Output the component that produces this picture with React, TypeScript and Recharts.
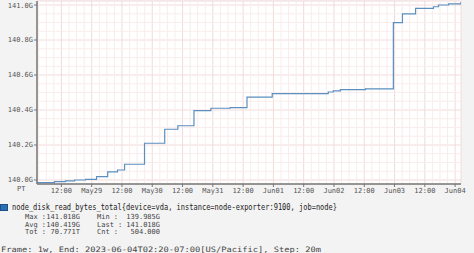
import React from "react";
import { LineChart, Line, XAxis, YAxis, CartesianGrid, ReferenceLine } from "recharts";

// hours since start of frame (2023-05-28 02:20 PT)
const hours = [0, 6.9, 11.3, 14.9, 19.2, 23.6, 28.0, 31.9, 34.7, 42.6, 50.6, 55.8, 62.2, 68.9, 76.5, 83.2, 93.2, 115.4, 117.4, 120.2, 130.1, 141.2, 144.8, 150.0, 157.1, 159.1, 163.1, 168.0];
// node_disk_read_bytes_total in G
const values = [139.985, 139.991, 139.995, 140.0, 140.004, 140.019, 140.046, 140.057, 140.09, 140.21, 140.29, 140.31, 140.396, 140.41, 140.414, 140.473, 140.494, 140.503, 140.509, 140.517, 140.521, 140.899, 140.949, 140.981, 140.99, 141.0, 141.006, 141.018];

const yTicks = [140.0, 140.2, 140.4, 140.6, 140.8, 141.0];
const yMinorTicks = [140.05, 140.1, 140.15, 140.25, 140.3, 140.35, 140.45, 140.5, 140.55, 140.65, 140.7, 140.75, 140.85, 140.9, 140.95];
const xTickHours = [9.667, 21.667, 33.667, 45.667, 57.667, 69.667, 81.667, 93.667, 105.667, 117.667, 129.667, 141.667, 153.667, 165.667];
const xTickLabels = ["12:00", "May29", "12:00", "May30", "12:00", "May31", "12:00", "Jun01", "12:00", "Jun02", "12:00", "Jun03", "12:00", "Jun04"];
const xMinorHours = [0.667, 3.667, 6.667, 12.667, 15.667, 18.667, 24.667, 27.667, 30.667, 36.667, 39.667, 42.667, 48.667, 51.667, 54.667, 60.667, 63.667, 66.667, 72.667, 75.667, 78.667, 84.667, 87.667, 90.667, 96.667, 99.667, 102.667, 108.667, 111.667, 114.667, 120.667, 123.667, 126.667, 132.667, 135.667, 138.667, 144.667, 147.667, 150.667, 156.667, 159.667, 162.667];

const seriesName = "node_disk_read_bytes_total{device=vda, instance=node-exporter:9100, job=node}";
const statsLeft = [["Max :", "141.018G"], ["Avg :", "140.419G"], ["Tot :", "70.771T"]];
const statsRight = [["Min  :", "139.985G"], ["Last :", "141.018G"], ["Cnt  :", "504.000"]];
const frameText = "Frame: 1w, End: 2023-06-04T02:20-07:00[US/Pacific], Step: 20m";

const data = hours.map((h, i) => ({ h, v: values[i] }));

const MONO = "'DejaVu Sans Mono', monospace";
const tickStyle = { fill: "#555", fontSize: 7, fontFamily: MONO };

export default function App() {
  return (
    <div style={{ position: "absolute", left: 0, top: 0, width: 474, height: 253, background: "#f3f3f3", overflow: "hidden" }}>
      <LineChart width={474} height={253} data={data} margin={{ top: 1, right: 13, bottom: 57, left: 0 }}>
        <CartesianGrid fill="#ffffff" stroke="#f3dada" strokeWidth={1} horizontal={true} vertical={true} />
        {yMinorTicks.map((t) => (
          <ReferenceLine key={"ym" + t} y={t} stroke="#f9ecec" strokeWidth={1} ifOverflow="hidden" />
        ))}
        {xMinorHours.map((t) => (
          <ReferenceLine key={"xm" + t} x={t} stroke="#f9ecec" strokeWidth={1} ifOverflow="hidden" />
        ))}
        <XAxis
          dataKey="h"
          type="number"
          domain={[0, 168]}
          ticks={xTickHours}
          interval={0}
          allowDataOverflow
          tickFormatter={(v: number, i: number) => xTickLabels[i]}
          tick={tickStyle}
          tickSize={3}
          tickMargin={1}
          height={12}
          axisLine={{ stroke: "#777", strokeWidth: 1.5 }}
          tickLine={{ stroke: "#777" }}
        />
        <YAxis
          type="number"
          domain={[139.977, 141.023]}
          ticks={yTicks}
          interval={0}
          allowDataOverflow
          tickFormatter={(v: number) => v.toFixed(1) + "G"}
          tick={tickStyle}
          tickSize={3}
          tickMargin={1}
          width={37}
          axisLine={{ stroke: "#777", strokeWidth: 1.5 }}
          tickLine={{ stroke: "#777" }}
        />
        <Line type="stepAfter" dataKey="v" stroke="#5a8fc0" strokeWidth={1.2} dot={false} isAnimationActive={false} />
      </LineChart>
      <svg width={474} height={253} style={{ position: "absolute", left: 0, top: 0, pointerEvents: "none" }}>
        <text x={17} y={191} fontSize={7} fontFamily={MONO} fill="#555">PT</text>
        <rect x={0.5} y={204.5} width={7} height={6} fill="#2a6fb5" stroke="#1a4f8a" strokeWidth={1} />
        <text x={12} y={210} fontSize={8} fontFamily={MONO} fill="#222" textLength={325} lengthAdjust="spacingAndGlyphs">{seriesName}</text>
        {statsLeft.map((s, i) => (
          <g key={"l" + i}>
            <text x={25} y={219 + i * 7.5} fontSize={7} fontFamily={MONO} fill="#444">{s[0]}</text>
            <text x={80} y={219 + i * 7.5} fontSize={7} fontFamily={MONO} fill="#444" textAnchor="end">{s[1]}</text>
          </g>
        ))}
        {statsRight.map((s, i) => (
          <g key={"r" + i}>
            <text x={97} y={219 + i * 7.5} fontSize={7} fontFamily={MONO} fill="#444">{s[0]}</text>
            <text x={160} y={219 + i * 7.5} fontSize={7} fontFamily={MONO} fill="#444" textAnchor="end">{s[1]}</text>
          </g>
        ))}
        <text x={1} y={251.5} fontSize={7.5} fontFamily={MONO} fill="#444" textLength={320} lengthAdjust="spacingAndGlyphs">{frameText}</text>
      </svg>
    </div>
  );
}
